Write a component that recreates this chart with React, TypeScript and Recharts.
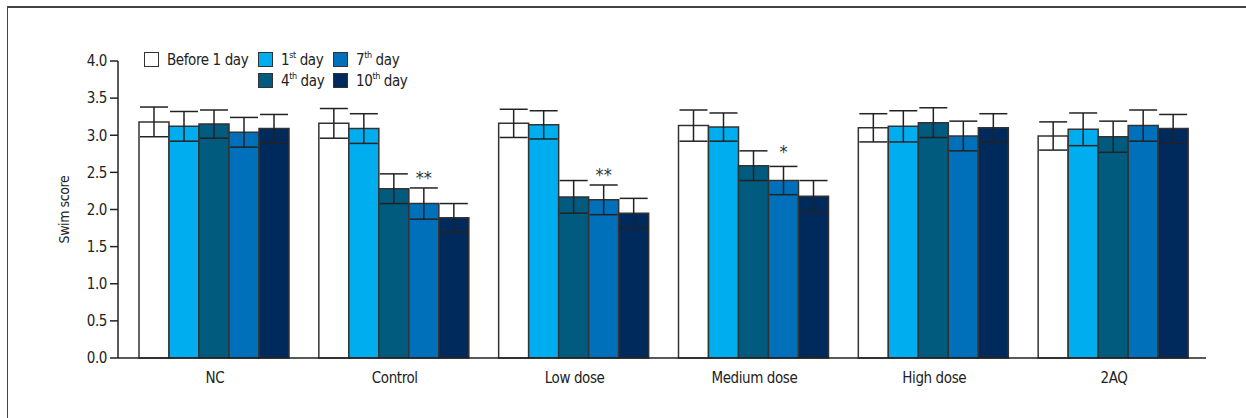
import React from 'react';
import { BarChart, Bar, XAxis, YAxis, ErrorBar, LabelList } from 'recharts';

const categories = ['NC', 'Control', 'Low dose', 'Medium dose', 'High dose', '2AQ'];
const before = [3.18, 3.16, 3.16, 3.13, 3.10, 2.99];
const day1 = [3.12, 3.09, 3.14, 3.11, 3.12, 3.08];
const day4 = [3.15, 2.28, 2.17, 2.59, 3.17, 2.98];
const day7 = [3.04, 2.08, 2.13, 2.39, 2.99, 3.13];
const day10 = [3.09, 1.89, 1.95, 2.18, 3.10, 3.09];
const beforeErr = [0.20, 0.20, 0.19, 0.21, 0.19, 0.19];
const day1Err = [0.20, 0.20, 0.19, 0.19, 0.21, 0.22];
const day4Err = [0.19, 0.20, 0.22, 0.20, 0.20, 0.21];
const day7Err = [0.20, 0.21, 0.20, 0.19, 0.20, 0.21];
const day10Err = [0.19, 0.19, 0.20, 0.21, 0.19, 0.19];
const day7Sig = ['', '**', '**', '*', '', ''];
const yTicks = [0, 0.5, 1, 1.5, 2, 2.5, 3, 3.5, 4];

const data = categories.map((c, i) => ({
  name: c,
  before: before[i], beforeErr: beforeErr[i],
  d1: day1[i], d1Err: day1Err[i],
  d4: day4[i], d4Err: day4Err[i],
  d7: day7[i], d7Err: day7Err[i],
  d10: day10[i], d10Err: day10Err[i],
}));

const FONT = '"Liberation Sans Narrow", "DejaVu Sans Condensed", sans-serif';
const STROKE = '#333333';

const series = [
  { key: 'before', color: '#ffffff', label: 'Before 1 day', sup: '', rest: '' },
  { key: 'd1', color: '#00aeef', label: '1', sup: 'st', rest: ' day' },
  { key: 'd4', color: '#005b7f', label: '4', sup: 'th', rest: ' day' },
  { key: 'd7', color: '#0070ba', label: '7', sup: 'th', rest: ' day' },
  { key: 'd10', color: '#002a5c', label: '10', sup: 'th', rest: ' day' },
];

const LegendItem = ({ s }: any) => (
  <div style={{ display: 'flex', alignItems: 'center', height: 21 }}>
    <div style={{ width: 13, height: 13, background: s.color, border: `1.5px solid ${STROKE}`, marginRight: 8, flexShrink: 0 }} />
    <span style={{ fontSize: 15, color: '#222', fontFamily: FONT, whiteSpace: 'nowrap', letterSpacing: -0.4 }}>
      {s.label}
      {s.sup ? <sup style={{ fontSize: 9, verticalAlign: 'top', position: 'relative', top: -1 }}>{s.sup}</sup> : null}
      {s.rest}
    </span>
  </div>
);

const CustomLegend = () => {
  const byKey: any = {};
  series.forEach((s) => (byKey[s.key] = s));
  return (
    <div style={{ position: 'absolute', left: 144, top: 49, display: 'grid', gridTemplateColumns: '114px 75px 90px', gridAutoRows: '21px' }}>
      <LegendItem s={byKey.before} />
      <LegendItem s={byKey.d1} />
      <LegendItem s={byKey.d7} />
      <div />
      <LegendItem s={byKey.d4} />
      <LegendItem s={byKey.d10} />
    </div>
  );
};

const SigLabel = (props: any) => {
  const { x, y, width, height, index } = props;
  const txt = day7Sig[index];
  if (!txt) return null;
  const v = day7[index];
  const errPx = (height / v) * day7Err[index];
  return (
    <text x={x + width / 2} y={y - errPx + (txt.length === 1 ? -8 : -4)} textAnchor="middle" fontSize={18} fill="#333" fontFamily={FONT}>
      {txt}
    </text>
  );
};

export default function App() {
  return (
    <div style={{ position: 'absolute', left: 0, top: 0, width: 1246, height: 418, background: '#fff' }}>
      <div style={{ position: 'absolute', left: 7, top: 6, width: 1239, height: 412, borderTop: '2px solid #444', borderLeft: '1.5px solid #444' }} />
      <div style={{ position: 'absolute', left: 0, top: 0 }}>
        <BarChart
          width={1246}
          height={418}
          data={data}
          margin={{ top: 61, right: 40, bottom: 30, left: 68 }}
          barCategoryGap={14}
          barGap={0}
        >
          <XAxis
            dataKey="name"
            padding={{ left: 7, right: 2 }}
            tickLine={false}
            axisLine={{ stroke: '#222', strokeWidth: 1.5 }}
            tick={{ fontSize: 15, fill: '#222', fontFamily: FONT, letterSpacing: -0.4 }}
            tickMargin={8}
            interval={0}
          />
          <YAxis
            domain={[0, 4]}
            ticks={yTicks}
            tickFormatter={(v: number) => v.toFixed(1)}
            width={50}
            tickSize={8}
            tickMargin={3}
            axisLine={{ stroke: '#222', strokeWidth: 1.5 }}
            tickLine={{ stroke: '#222', strokeWidth: 1.5 }}
            tick={{ fontSize: 15, fill: '#222', fontFamily: FONT, letterSpacing: -0.4 }}
            label={{ value: 'Swim score', angle: -90, position: 'insideLeft', offset: -4, style: { fontSize: 14, fill: '#222', fontFamily: FONT, textAnchor: 'middle', letterSpacing: -0.4 } }}
          />
          {series.map((s) => (
            <Bar key={s.key} dataKey={s.key} name={s.label + s.sup + s.rest} fill={s.color} stroke={STROKE} strokeWidth={1.5} isAnimationActive={false}>
              <ErrorBar dataKey={`${s.key}Err`} width={14} stroke="#222" strokeWidth={1.5} direction="y" />
              {s.key === 'd7' ? <LabelList dataKey="d7" content={<SigLabel />} /> : null}
            </Bar>
          ))}
        </BarChart>
      </div>
      <CustomLegend />
    </div>
  );
}
